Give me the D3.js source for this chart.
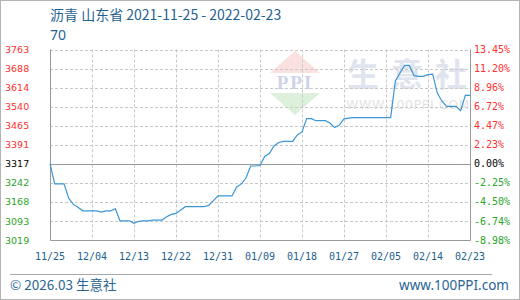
<!DOCTYPE html>
<html>
<head>
<meta charset="utf-8">
<script src="https://cdn.jsdelivr.net/npm/d3@7"></script>
<style>
  body { margin: 0; background: #fff; }
  svg { display: block; }
</style>
</head>
<body>
<div id="chart"></div>
<script>
// 沥青 山东省 daily price, one value per day from startDate
var startDate = "2021-11-25";
var prices = [
  3317, 3238, 3238, 3238, 3183, 3158, 3147, 3133, 3133, 3133,
  3133, 3128, 3133, 3133, 3141, 3094, 3094, 3094, 3084, 3092,
  3094, 3094, 3097, 3097, 3097, 3110, 3119, 3123, 3136, 3149,
  3149, 3149, 3149, 3149, 3154, 3173, 3191, 3191, 3191, 3191,
  3226, 3238, 3261, 3308, 3308, 3310, 3345, 3357, 3386, 3400,
  3404, 3404, 3404, 3429, 3441, 3493, 3493, 3485, 3485, 3485,
  3476, 3458, 3468, 3492, 3495, 3497, 3497, 3497, 3497, 3497,
  3497, 3497, 3497, 3497, 3640, 3671, 3701, 3701, 3661, 3658,
  3658, 3665, 3667, 3593, 3561, 3541, 3541, 3541, 3524, 3584,
  3584
];
var basePrice = 3317;
var yTicks = [3019, 3093, 3168, 3242, 3317, 3391, 3465, 3540, 3614, 3688, 3763];
var pctLabels = ["-8.98%", "-6.74%", "-4.50%", "-2.25%", "0.00%", "2.23%", "4.47%", "6.72%", "8.96%", "11.20%", "13.45%"];
var xTickLabels = ["11/25", "12/04", "12/13", "12/22", "12/31", "01/09", "01/18", "01/27", "02/05", "02/14", "02/23"];

var W = 520, H = 300;
var plotLeft = 50, plotRight = 470, plotTop = 49.5, plotBottom = 240;

var svg = d3.select("#chart").append("svg")
  .attr("width", W).attr("height", H);

svg.append("rect").attr("x", 0.5).attr("y", 0.5).attr("width", W - 1).attr("height", H - 1)
  .attr("fill", "#fff").attr("stroke", "#b4b4b4");

var t0 = d3.timeParse("%Y-%m-%d")(startDate);
var data = prices.map(function (p, i) { return { date: d3.timeDay.offset(t0, i), value: p }; });
var tickDates = xTickLabels.map(function (d, i) { return d3.timeDay.offset(t0, i * 9); });

var x = d3.scaleTime().domain([data[0].date, data[data.length - 1].date]).range([plotLeft, plotRight]);
var y = d3.scaleLinear().domain([yTicks[0], yTicks[yTicks.length - 1]]).range([plotBottom, plotTop]);

// watermark
var wm = svg.append("g");
var cx = 295;
wm.append("path").attr("d", "M" + cx + ",51L" + (cx + 25) + ",73L" + (cx - 25) + ",73Z").attr("fill", "#fbe0e0");
wm.append("path").attr("d", "M" + (cx - 25) + ",93L" + (cx + 25) + ",93L" + cx + ",115Z").attr("fill", "#dcf0dc");
wm.append("text").attr("x", cx).attr("y", 89).attr("text-anchor", "middle")
  .attr("font-family", "Liberation Serif").attr("font-weight", "bold").attr("font-size", 19)
  .attr("letter-spacing", 2).attr("fill", "#cdd3ea").text("PPI");
["生", "意", "社"].forEach(function (c, i) {
  wm.append("text").attr("x", 347 + i * 44).attr("y", 86)
    .attr("font-family", "Noto Sans CJK SC").attr("font-weight", "bold").attr("font-size", 32)
    .attr("fill", "#dfe4ee").text(c);
});
wm.append("text").attr("x", 346).attr("y", 109)
  .attr("font-family", "DejaVu Sans").attr("font-size", 12.5)
  .attr("letter-spacing", 0.6).attr("fill", "#e3e3e3").text("WWW.100PPI.COM");

// grid
var grid = svg.append("g").attr("stroke", "#c8c8c8").attr("stroke-dasharray", "3,2");
grid.selectAll("line.h").data(yTicks.filter(function (v) { return v !== basePrice; }))
  .enter().append("line")
  .attr("x1", plotLeft).attr("x2", plotRight)
  .attr("y1", function (v) { return Math.round(y(v)) + 0.5; })
  .attr("y2", function (v) { return Math.round(y(v)) + 0.5; });
grid.selectAll("line.v").data(tickDates.slice(1, -1))
  .enter().append("line")
  .attr("y1", plotTop).attr("y2", plotBottom)
  .attr("x1", function (d) { return Math.round(x(d)) + 0.5; })
  .attr("x2", function (d) { return Math.round(x(d)) + 0.5; });

// frame + zero line
var frame = svg.append("g").attr("stroke", "#9a9a9a").attr("fill", "none");
frame.append("path").attr("d", "M" + (plotLeft + 0.5) + "," + plotTop + "V" + (plotBottom + 0.5) + "H" + (plotRight + 0.5) + "V" + plotTop);
frame.append("line").attr("x1", plotLeft).attr("x2", plotRight)
  .attr("y1", Math.round(y(basePrice)) + 0.5).attr("y2", Math.round(y(basePrice)) + 0.5);

// price line
var line = d3.line().x(function (d) { return x(d.date); }).y(function (d) { return y(d.value); });
svg.append("path").datum(data).attr("d", line)
  .attr("fill", "none").attr("stroke", "#3b96d6").attr("stroke-width", 1.2);

function tickColor(v) { return v > basePrice ? "#ff3030" : (v < basePrice ? "#2aa52a" : "#000"); }

// left axis labels
svg.append("g").selectAll("text").data(yTicks).enter().append("text")
  .attr("x", 5).attr("y", function (v) { return y(v) + 3.5; })
  .attr("font-family", "DejaVu Sans").attr("font-size", 9.5)
  .attr("fill", tickColor).text(function (v) { return v; });

// right axis labels
svg.append("g").selectAll("text").data(yTicks).enter().append("text")
  .attr("x", 474).attr("y", function (v) { return y(v) + 3.5; })
  .attr("font-family", "DejaVu Sans Mono").attr("font-size", 10)
  .attr("fill", tickColor).text(function (v, i) { return pctLabels[i]; });

// x labels
svg.append("g").selectAll("text").data(tickDates).enter().append("text")
  .attr("x", function (d) { return x(d); }).attr("y", 260)
  .attr("text-anchor", "middle")
  .attr("font-family", "DejaVu Sans Mono").attr("font-size", 10)
  .attr("fill", "#1d5f8e").text(function (d, i) { return xTickLabels[i]; });

// title
svg.append("text").attr("x", 50).attr("y", 20)
  .attr("font-family", "Noto Sans CJK SC").attr("font-size", 14)
  .attr("fill", "#1f6292").text("沥青 山东省 2021-11-25 - 2022-02-23");
svg.append("text").attr("x", 50).attr("y", 40)
  .attr("font-family", "Noto Sans").attr("font-size", 14)
  .attr("fill", "#1f6292").text("70");

// footer
svg.append("line").attr("x1", 10).attr("x2", 492).attr("y1", 274.5).attr("y2", 274.5)
  .attr("stroke", "#a8a8a8");
svg.append("text").attr("x", 10).attr("y", 290)
  .attr("font-family", "Noto Sans CJK SC").attr("font-size", 13.5)
  .attr("fill", "#2a6595").text("© 2026.03 生意社");
svg.append("text").attr("x", 509).attr("y", 290).attr("text-anchor", "end")
  .attr("font-family", "Noto Sans").attr("font-size", 13.5)
  .attr("fill", "#2a6595").text("www.100PPI.com");
</script>
</body>
</html>
